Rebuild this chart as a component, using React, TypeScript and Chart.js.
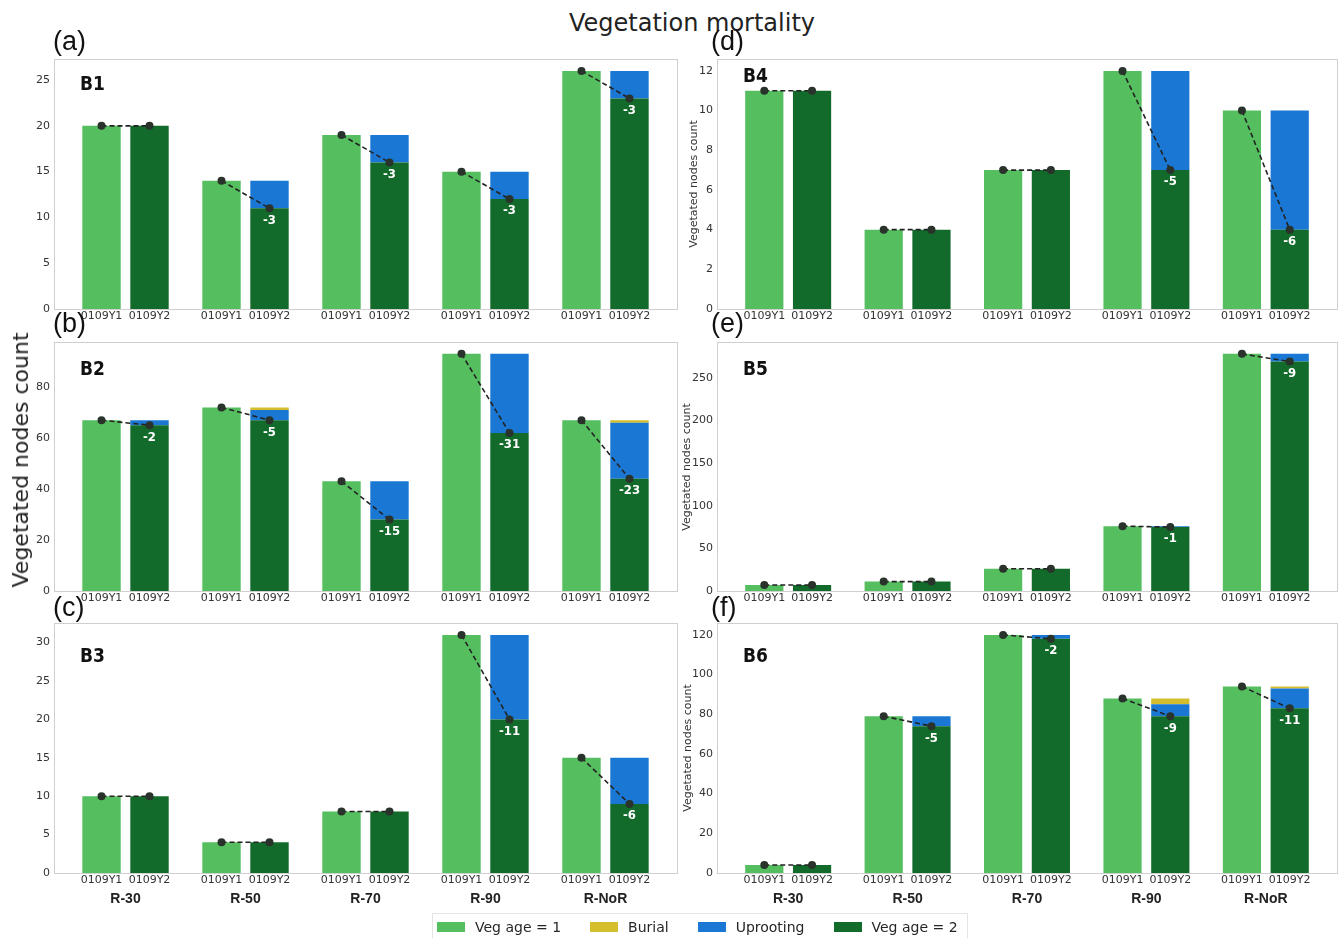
import { useEffect, useRef } from "react";
import { Chart, registerables } from "chart.js";
Chart.register(...registerables);

// ---------- data ----------
const groups = ["R-30", "R-50", "R-70", "R-90", "R-NoR"];
const subLabels = ["0109Y1", "0109Y2"];
const y1Pos = [0, 2.5, 5, 7.5, 10];
const y2Pos = [1, 3.5, 6, 8.5, 11];
const groupPos = [0.5, 3, 5.5, 8, 10.5];

const b1Age1 = [20, 14, 19, 15, 26];
const b1Age2 = [20, 11, 16, 12, 23];
const b1Burial = [0, 0, 0, 0, 0];
const b1Uproot = [0, 3, 3, 3, 3];
const b1Ticks = [0, 5, 10, 15, 20, 25];

const b2Age1 = [67, 72, 43, 93, 67];
const b2Age2 = [65, 67, 28, 62, 44];
const b2Burial = [0, 1, 0, 0, 1];
const b2Uproot = [2, 4, 15, 31, 22];
const b2Ticks = [0, 20, 40, 60, 80];

const b3Age1 = [10, 4, 8, 31, 15];
const b3Age2 = [10, 4, 8, 20, 9];
const b3Burial = [0, 0, 0, 0, 0];
const b3Uproot = [0, 0, 0, 11, 6];
const b3Ticks = [0, 5, 10, 15, 20, 25, 30];

const b4Age1 = [11, 4, 7, 12, 10];
const b4Age2 = [11, 4, 7, 7, 4];
const b4Burial = [0, 0, 0, 0, 0];
const b4Uproot = [0, 0, 0, 5, 6];
const b4Ticks = [0, 2, 4, 6, 8, 10, 12];

const b5Age1 = [7, 11, 26, 76, 278];
const b5Age2 = [7, 11, 26, 75, 269];
const b5Burial = [0, 0, 0, 0, 0];
const b5Uproot = [0, 0, 0, 1, 9];
const b5Ticks = [0, 50, 100, 150, 200, 250];

const b6Age1 = [4, 79, 120, 88, 94];
const b6Age2 = [4, 74, 118, 79, 83];
const b6Burial = [0, 0, 0, 3, 1];
const b6Uproot = [0, 5, 2, 6, 10];
const b6Ticks = [0, 20, 40, 60, 80, 100, 120];

const legendLabels = ["Veg age = 1", "Burial", "Uprooting", "Veg age = 2"];

// ---------- styles ----------
const C_AGE1 = "#55be5f";
const C_AGE2 = "#136b2b";
const C_BURIAL = "#d5be2e";
const C_UPROOT = "#1a78d4";
const FONT = "'DejaVu Sans', sans-serif";
const XMIN = -0.99;
const XMAX = 11.99;

type PanelCfg = {
  name: string;
  letter: string;
  age1: number[];
  age2: number[];
  burial: number[];
  uproot: number[];
  ticks: number[];
  col: number;
  row: number;
  namePos: [number, number];
  ylabelX: number;
};

const panels: PanelCfg[] = [
  { name: "B1", letter: "(a)", age1: b1Age1, age2: b1Age2, burial: b1Burial, uproot: b1Uproot, ticks: b1Ticks, col: 0, row: 0, namePos: [80, 83], ylabelX: 0 },
  { name: "B2", letter: "(b)", age1: b2Age1, age2: b2Age2, burial: b2Burial, uproot: b2Uproot, ticks: b2Ticks, col: 0, row: 1, namePos: [80, 368], ylabelX: 0 },
  { name: "B3", letter: "(c)", age1: b3Age1, age2: b3Age2, burial: b3Burial, uproot: b3Uproot, ticks: b3Ticks, col: 0, row: 2, namePos: [80, 655], ylabelX: 0 },
  { name: "B4", letter: "(d)", age1: b4Age1, age2: b4Age2, burial: b4Burial, uproot: b4Uproot, ticks: b4Ticks, col: 1, row: 0, namePos: [743, 75], ylabelX: 693 },
  { name: "B5", letter: "(e)", age1: b5Age1, age2: b5Age2, burial: b5Burial, uproot: b5Uproot, ticks: b5Ticks, col: 1, row: 1, namePos: [743, 368], ylabelX: 686 },
  { name: "B6", letter: "(f)", age1: b6Age1, age2: b6Age2, burial: b6Burial, uproot: b6Uproot, ticks: b6Ticks, col: 1, row: 2, namePos: [743, 655], ylabelX: 687 },
];

const colLeft = [54, 717];
const colRight = [677, 1337];
const rowTop = [59, 342, 623];
const rowBottom = [309, 591, 873];
const letterX = [53, 711];
const letterTop = [28, 310, 594];

const PAD_L = 44;
const PAD_T = 14;
const PAD_R = 6;
const X_H = 16;
const G_H = 28;

function Panel({ p }: { p: PanelCfg }) {
  const ref = useRef<HTMLCanvasElement>(null);
  const bottomRow = p.row === 2;
  const areaW = colRight[p.col] - colLeft[p.col];
  const areaH = rowBottom[p.row] - rowTop[p.row];
  const w = areaW + PAD_L + PAD_R;
  const h = areaH + PAD_T + X_H + (bottomRow ? G_H : 0);

  useEffect(() => {
    const canvas = ref.current;
    if (!canvas) return;
    const totals = p.age2.map((v, i) => v + p.burial[i] + p.uproot[i]);
    const ymax = Math.max(...p.age1, ...totals) * 1.05;
    const tickPos: number[] = [];
    y1Pos.forEach((v, i) => tickPos.push(v, y2Pos[i]));

    const lineData: any[] = [];
    p.age1.forEach((v, i) => {
      lineData.push({ x: y1Pos[i], y: v }, { x: y2Pos[i], y: p.age2[i] });
      if (i < p.age1.length - 1) lineData.push({ x: y2Pos[i] + 0.75, y: null });
    });

    const deco = {
      id: "deco",
      afterDatasetsDraw(chart: any) {
        const { ctx, chartArea } = chart;
        const xs = chart.scales.x;
        const ys = chart.scales.y;
        ctx.save();
        ctx.fillStyle = "#ffffff";
        ctx.font = `bold 13px 'DejaVu Sans Condensed', 'DejaVu Sans', sans-serif`;
        ctx.textAlign = "center";
        ctx.textBaseline = "middle";
        p.age2.forEach((v, i) => {
          const diff = v - p.age1[i];
          if (diff !== 0) {
            ctx.fillText(String(diff), xs.getPixelForValue(y2Pos[i]), ys.getPixelForValue(v) + 12);
          }
        });
        ctx.strokeStyle = "#cfcfcf";
        ctx.lineWidth = 1;
        ctx.strokeRect(
          Math.round(chartArea.left) + 0.5,
          Math.round(chartArea.top) + 0.5,
          Math.round(chartArea.right - chartArea.left),
          Math.round(chartArea.bottom - chartArea.top)
        );
        ctx.restore();
      },
    };

    const scales: any = {
      x: {
        type: "linear",
        position: "bottom",
        min: XMIN,
        max: XMAX,
        stacked: true,
        offset: false,
        weight: 0,
        grid: { display: false, drawTicks: false },
        border: { display: false },
        afterBuildTicks: (s: any) => {
          s.ticks = tickPos.map((v) => ({ value: v }));
        },
        ticks: {
          autoSkip: false,
          maxRotation: 0,
          minRotation: 0,
          padding: 1,
          color: "#333333",
          font: { family: FONT, size: 11 },
          callback: (_v: any, i: number) => subLabels[i % 2],
        },
        afterFit: (s: any) => {
          s.height = X_H;
        },
      },
      y: {
        type: "linear",
        min: 0,
        max: ymax,
        stacked: true,
        grid: { display: false, drawTicks: false },
        border: { display: false },
        afterBuildTicks: (s: any) => {
          s.ticks = p.ticks.map((v) => ({ value: v }));
        },
        ticks: {
          padding: 4,
          color: "#333333",
          font: { family: FONT, size: 11 },
        },
        afterFit: (s: any) => {
          s.width = PAD_L;
        },
      },
    };
    if (bottomRow) {
      scales.x2 = {
        type: "linear",
        position: "bottom",
        axis: "x",
        min: XMIN,
        max: XMAX,
        offset: false,
        weight: 1,
        grid: { display: false, drawTicks: false },
        border: { display: false },
        afterBuildTicks: (s: any) => {
          s.ticks = groupPos.map((v) => ({ value: v }));
        },
        ticks: {
          autoSkip: false,
          maxRotation: 0,
          minRotation: 0,
          padding: 2,
          color: "#222222",
          font: { family: "'Liberation Sans', Arial, sans-serif", size: 14, weight: "bold" },
          callback: (_v: any, i: number) => groups[i],
        },
        afterFit: (s: any) => {
          s.height = G_H;
        },
      };
    }

    const mk = (arr: number[], pos: number[]) => arr.map((v, i) => ({ x: pos[i], y: v }));

    const chart = new Chart(canvas, {
      type: "bar",
      data: {
        datasets: [
          {
            type: "line",
            label: "change",
            data: lineData,
            borderColor: "#222222",
            borderWidth: 1.6,
            borderDash: [5, 3],
            pointRadius: 4,
            pointBackgroundColor: "#29332b",
            pointBorderWidth: 0,
            spanGaps: false,
            fill: false,
            order: 0,
            stack: "line",
          } as any,
          {
            label: legendLabels[3],
            data: mk(p.age2, y2Pos),
            backgroundColor: C_AGE2,
            barPercentage: 0.8,
            categoryPercentage: 1,
            order: 1,
          },
          {
            label: legendLabels[2],
            data: mk(p.uproot, y2Pos),
            backgroundColor: C_UPROOT,
            barPercentage: 0.8,
            categoryPercentage: 1,
            order: 2,
          },
          {
            label: legendLabels[1],
            data: mk(p.burial, y2Pos),
            backgroundColor: C_BURIAL,
            barPercentage: 0.8,
            categoryPercentage: 1,
            order: 3,
          },
          {
            label: legendLabels[0],
            data: mk(p.age1, y1Pos),
            backgroundColor: C_AGE1,
            barPercentage: 0.8,
            categoryPercentage: 1,
            order: 4,
          },
        ] as any,
      },
      options: {
        responsive: false,
        animation: false,
        events: [],
        layout: { padding: { top: PAD_T, right: PAD_R, left: 0, bottom: 0 } },
        plugins: { legend: { display: false }, tooltip: { enabled: false } },
        scales,
      } as any,
      plugins: [deco],
    });
    return () => chart.destroy();
  }, []);

  return (
    <canvas
      ref={ref}
      width={w}
      height={h}
      style={{
        position: "absolute",
        left: colLeft[p.col] - PAD_L,
        top: rowTop[p.row] - PAD_T,
        width: w,
        height: h,
      }}
    />
  );
}

export default function App() {
  const legendColors = [C_AGE1, C_BURIAL, C_UPROOT, C_AGE2];
  return (
    <div style={{ position: "absolute", left: 0, top: 0, width: 1344, height: 938, background: "#fff", overflow: "hidden", fontFamily: FONT }}>
      <div style={{ position: "absolute", left: 692, top: 11, transform: "translateX(-50%)", fontSize: 24, lineHeight: "24px", color: "#222", whiteSpace: "nowrap" }}>
        Vegetation mortality
      </div>
      {panels.map((p) => (
        <Panel key={p.name} p={p} />
      ))}
      {panels.map((p) => (
        <div key={p.letter} style={{ position: "absolute", left: letterX[p.col], top: letterTop[p.row], fontFamily: "'Liberation Sans', Arial, sans-serif", fontSize: 27, lineHeight: "27px", color: "#111" }}>
          {p.letter}
        </div>
      ))}
      {panels.map((p) => (
        <div key={p.name + "n"} style={{ position: "absolute", left: p.namePos[0], top: p.namePos[1], transform: "translateY(-50%)", fontFamily: "'DejaVu Sans Condensed', 'DejaVu Sans', sans-serif", fontWeight: "bold", fontSize: 19, lineHeight: "19px", color: "#111" }}>
          {p.name}
        </div>
      ))}
      {panels
        .filter((p) => p.col === 1)
        .map((p) => (
          <div key={p.name + "y"} style={{ position: "absolute", left: p.ylabelX, top: (rowTop[p.row] + rowBottom[p.row]) / 2, transform: "translate(-50%, -50%) rotate(-90deg)", fontSize: 11, lineHeight: "11px", color: "#333", whiteSpace: "nowrap" }}>
            Vegetated nodes count
          </div>
        ))}
      <div style={{ position: "absolute", left: 21, top: 460, transform: "translate(-50%, -50%) rotate(-90deg)", fontSize: 22, lineHeight: "22px", color: "#222", whiteSpace: "nowrap" }}>
        Vegetated nodes count
      </div>
      <div style={{ position: "absolute", left: 432, top: 913, width: 536, height: 28, boxSizing: "border-box", border: "1px solid #e4e4e4", display: "flex", alignItems: "center", paddingLeft: 4 }}>
        {legendLabels.map((l, i) => (
          <div key={l} style={{ display: "flex", alignItems: "center", marginRight: i < 3 ? 29 : 0 }}>
            <div style={{ width: 28, height: 10, background: legendColors[i], marginRight: 10 }} />
            <span style={{ fontSize: 14, color: "#262626", whiteSpace: "nowrap" }}>{l}</span>
          </div>
        ))}
      </div>
    </div>
  );
}
